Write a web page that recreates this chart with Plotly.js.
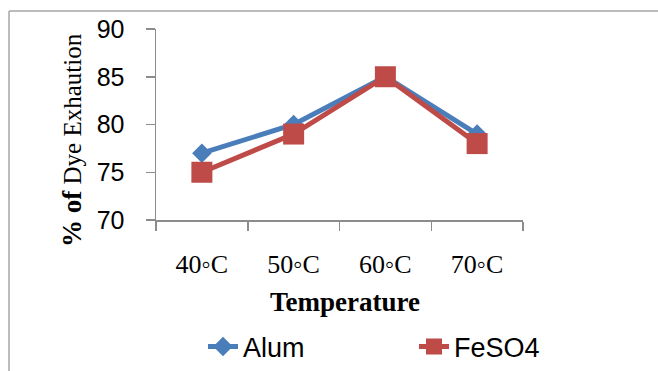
<!DOCTYPE html>
<html>
<head>
<meta charset="utf-8">
<script src="https://cdn.plot.ly/plotly-3.0.1.min.js"></script>
<style>html,body{margin:0;padding:0;background:#fff;}#chart{width:658px;height:371px;}</style>
</head>
<body>
<div id="chart"></div>
<script>
const categories = ["40\u25E6C", "50\u25E6C", "60\u25E6C", "70\u25E6C"];
const alumValues = [77, 80, 85, 79];
const feso4Values = [75, 79, 85, 78];
const seriesNames = ["Alum", "FeSO4"];
const yTicks = [70, 75, 80, 85, 90];

const axisColor = "#8c8c8c";

const traces = [
  {
    x: categories, y: alumValues, name: seriesNames[0], type: "scatter", mode: "lines+markers",
    line: {color: "#4A7EBB", width: 5},
    marker: {symbol: "diamond", size: 15, color: "#4A7EBB"}
  },
  {
    x: categories, y: feso4Values, name: seriesNames[1], type: "scatter", mode: "lines+markers",
    line: {color: "#BE4B48", width: 5},
    marker: {symbol: "square", size: 21, color: "#BE4B48"}
  }
];

const layout = {
  width: 658, height: 371,
  margin: {l: 156, r: 135, t: 29, b: 151, autoexpand: false},
  paper_bgcolor: "#fff", plot_bgcolor: "#fff",
  showlegend: true,
  xaxis: {
    type: "category", tickson: "boundaries", ticks: "outside", ticklen: 9, tickcolor: axisColor, tickwidth: 1.5,
    showline: true, linecolor: axisColor, linewidth: 1.5, showgrid: false, zeroline: false,
    range: [-0.5, 3.5],
    tickfont: {family: "Liberation Serif, Times New Roman, serif", size: 26, color: "#000"},
    ticklabelstandoff: 20
  },
  yaxis: {
    range: [70, 90], tickvals: yTicks, ticks: "outside", ticklen: 9, tickcolor: axisColor, tickwidth: 1.5,
    showline: true, linecolor: axisColor, linewidth: 1.5, showgrid: false, zeroline: false,
    tickfont: {family: "Liberation Sans, Arial, sans-serif", size: 25, color: "#000"},
    ticklabelstandoff: 16
  },
  legend: {
    orientation: "h", x: (625-156)/367, xanchor: "right", y: (220-347)/191, yanchor: "middle",
    entrywidth: 166, entrywidthmode: "pixels",
    font: {family: "Liberation Sans, Arial, sans-serif", size: 27, color: "#000"},
    bgcolor: "rgba(0,0,0,0)"
  },
  annotations: [
    {text: "Temperature", xref: "paper", yref: "paper", x: (345-156)/367, y: (220-302)/191,
     xanchor: "center", yanchor: "middle", showarrow: false,
     font: {family: "Liberation Serif, Times New Roman, serif", size: 27, color: "#000", weight: "bold"}},
    {text: "<b><span style='font-size:27px'>% of</span></b> Dye Exhaution", xref: "paper", yref: "paper", x: (72-156)/367, y: (220-140)/191,
     xanchor: "center", yanchor: "middle", showarrow: false, textangle: -90,
     font: {family: "Liberation Serif, Times New Roman, serif", size: 25, color: "#000"}}
  ],
  shapes: [
    {type: "line", xref: "paper", yref: "paper", x0: (9-156)/367, x1: (670-156)/367, y0: (220-11)/191, y1: (220-11)/191,
     line: {color: "#a6a6a6", width: 1.5}},
    {type: "line", xref: "paper", yref: "paper", x0: (9-156)/367, x1: (9-156)/367, y0: (220-11)/191, y1: (220-380)/191,
     line: {color: "#a6a6a6", width: 1.5}}
  ]
};

Plotly.newPlot("chart", traces, layout, {displayModeBar: false, staticPlot: true});
</script>
</body>
</html>
